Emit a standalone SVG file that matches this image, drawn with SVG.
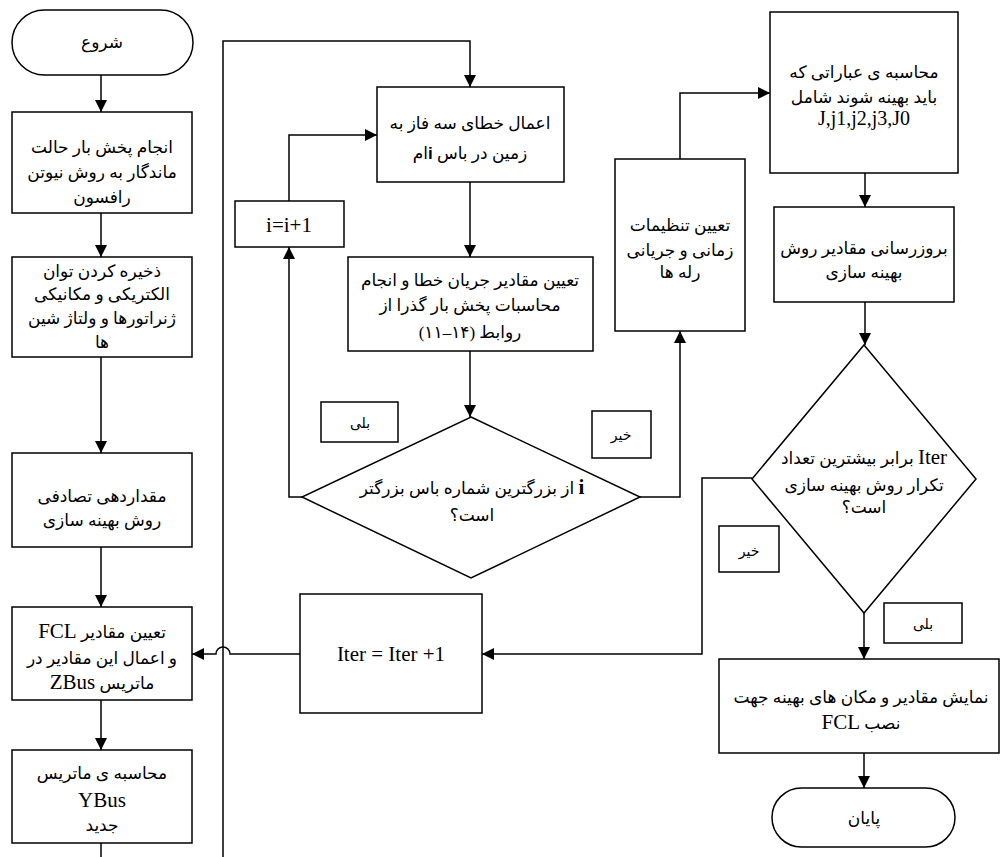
<svg xmlns="http://www.w3.org/2000/svg" width="1001" height="857" viewBox="0 0 1001 857">
<style>
.n{fill:#fff;stroke:#000;stroke-width:1.5}
.c{fill:none;stroke:#000;stroke-width:1.5}
.t{font-family:"Liberation Serif","DejaVu Sans",serif;font-size:17px;fill:#000;text-anchor:middle;direction:rtl}
.l{font-family:"Liberation Serif",serif;font-size:21px}
.b{font-weight:bold}
.s{font-size:14px}
</style>
<defs>
<marker id="ah" markerUnits="userSpaceOnUse" markerWidth="12" markerHeight="12" refX="12" refY="6" orient="auto"><path d="M0,0 L12,6 L0,12 z" fill="#000"/></marker>
</defs>
<rect width="1001" height="857" fill="#fff"/>
<g id="connectors">
<path class="c" d="M101,75 V112" marker-end="url(#ah)"/>
<path class="c" d="M101,213 V257" marker-end="url(#ah)"/>
<path class="c" d="M101,357 V453" marker-end="url(#ah)"/>
<path class="c" d="M101,547 V607" marker-end="url(#ah)"/>
<path class="c" d="M101,700 V750" marker-end="url(#ah)"/>
<path class="c" d="M101,843 V857"/>
<path class="c" d="M223,857 V41 H470 V87" marker-end="url(#ah)"/>
<path class="c" d="M470,182 V257" marker-end="url(#ah)"/>
<path class="c" d="M470,351 V417" marker-end="url(#ah)"/>
<path class="c" d="M302,497 H289 V247" marker-end="url(#ah)"/>
<path class="c" d="M289,201 V135 H377" marker-end="url(#ah)"/>
<path class="c" d="M640,497 H680 V331" marker-end="url(#ah)"/>
<path class="c" d="M680,159 V93 H770" marker-end="url(#ah)"/>
<path class="c" d="M865,173 V207" marker-end="url(#ah)"/>
<path class="c" d="M865,302 V345" marker-end="url(#ah)"/>
<path class="c" d="M752,478 H702 V654 H482" marker-end="url(#ah)"/>
<path class="c" d="M300,654 H230 A7,7 0 0 0 216,654 H192" marker-end="url(#ah)"/>
<path class="c" d="M864,613 V659" marker-end="url(#ah)"/>
<path class="c" d="M864,753 V788" marker-end="url(#ah)"/>
</g>
<g id="start"><rect class="n" x="12" y="10" width="181" height="65" rx="32.5"/><text class="t" x="102" y="48">شروع</text></g>
<g id="box1"><rect class="n" x="12" y="112" width="180" height="101"/>
<text class="t" x="102" y="153">انجام پخش بار حالت</text>
<text class="t" x="102" y="178">ماندگار به روش نیوتن</text>
<text class="t" x="102" y="203">رافسون</text></g>
<g id="box2"><rect class="n" x="12" y="257" width="180" height="100"/>
<text class="t" x="102" y="277">ذخیره کردن توان</text>
<text class="t" x="102" y="300">الکتریکی و مکانیکی</text>
<text class="t" x="102" y="324">ژنراتورها و ولتاژ شین</text>
<text class="t" x="102" y="348">ها</text></g>
<g id="box3"><rect class="n" x="12" y="453" width="180" height="94"/>
<text class="t" x="102" y="502">مقداردهی تصادفی</text>
<text class="t" x="102" y="526">روش بهینه سازی</text></g>
<g id="box4"><rect class="n" x="12" y="607" width="180" height="93"/>
<text class="t" x="102" y="638">تعیین مقادیر <tspan class="l">FCL</tspan></text>
<text class="t" x="102" y="664">و اعمال این مقادیر در</text>
<text class="t" x="102" y="689">ماتریس <tspan class="l">ZBus</tspan></text></g>
<g id="box5"><rect class="n" x="12" y="750" width="180" height="93"/>
<text class="t" x="102" y="779">محاسبه ی ماتریس</text>
<text class="t" x="102" y="807"><tspan class="l">YBus</tspan></text>
<text class="t" x="102" y="831">جدید</text></g>
<g id="fault"><rect class="n" x="377" y="87" width="187" height="95"/>
<text class="t" x="470" y="129">اعمال خطای سه فاز به</text>
<text class="t" x="470" y="159">زمین در باس <tspan class="b" style="font-family:'Liberation Sans',sans-serif">i</tspan>ام</text></g>
<g id="calc"><rect class="n" x="348" y="257" width="245" height="94"/>
<text class="t" x="470" y="286">تعیین مقادیر جریان خطا و انجام</text>
<text class="t" x="470" y="311">محاسبات پخش بار گذرا از</text>
<text class="t" x="470" y="338">روابط (۱۴–۱۱)</text></g>
<g id="inc"><rect class="n" x="235" y="201" width="109" height="46"/>
<text class="t l" x="289" y="232">i=i+1</text></g>
<g id="dec1"><path class="n" d="M471,417 L640,497 L471,578 L302,497 Z"/>
<text class="t" x="472" y="494"><tspan class="l b">i</tspan>   از بزرگترین شماره باس بزرگتر</text>
<text class="t" x="472" y="521">است؟</text></g>
<g id="yes1"><rect class="n" x="321" y="402" width="77" height="40"/><text class="t s" x="360" y="428">بلی</text></g>
<g id="no1"><rect class="n" x="592" y="411" width="59" height="47"/><text class="t s" x="621" y="440">خیر</text></g>
<g id="relay"><rect class="n" x="615" y="159" width="130" height="172"/>
<text class="t" x="680" y="231">تعیین تنظیمات</text>
<text class="t" x="680" y="256">زمانی و جریانی</text>
<text class="t" x="680" y="278">رله ها</text></g>
<g id="obj"><rect class="n" x="770" y="12" width="188" height="161"/>
<text class="t" x="864" y="78">محاسبه ی عباراتی که</text>
<text class="t" x="864" y="103">باید بهینه شوند شامل</text>
<text class="t l" x="864" y="125" style="direction:ltr;font-size:20px">J,j1,j2,j3,J0</text></g>
<g id="update"><rect class="n" x="774" y="207" width="180" height="95"/>
<text class="t" x="864" y="254">بروزرسانی مقادیر روش</text>
<text class="t" x="864" y="278">بهینه سازی</text></g>
<g id="dec2"><path class="n" d="M864,345 L976,479 L864,613 L752,479 Z"/>
<text class="t" x="864" y="464"><tspan class="l">Iter</tspan> برابر بیشترین تعداد</text>
<text class="t" x="864" y="491">تکرار روش بهینه سازی</text>
<text class="t" x="864" y="513">است؟</text></g>
<g id="no2"><rect class="n" x="719" y="526" width="60" height="46"/><text class="t s" x="749" y="556">خیر</text></g>
<g id="yes2"><rect class="n" x="884" y="603" width="78" height="40"/><text class="t s" x="923" y="629">بلی</text></g>
<g id="iter"><rect class="n" x="300" y="594" width="182" height="119"/>
<text class="t l" x="391" y="661" style="direction:ltr">Iter = Iter +1</text></g>
<g id="show"><rect class="n" x="719" y="659" width="280" height="94"/>
<text class="t" x="861" y="703">نمایش مقادیر و مکان های بهینه جهت</text>
<text class="t" x="861" y="729">نصب <tspan class="l">FCL</tspan></text></g>
<g id="end"><rect class="n" x="772" y="788" width="183" height="59" rx="29.5"/><text class="t" x="864" y="824">پایان</text></g>
</svg>
